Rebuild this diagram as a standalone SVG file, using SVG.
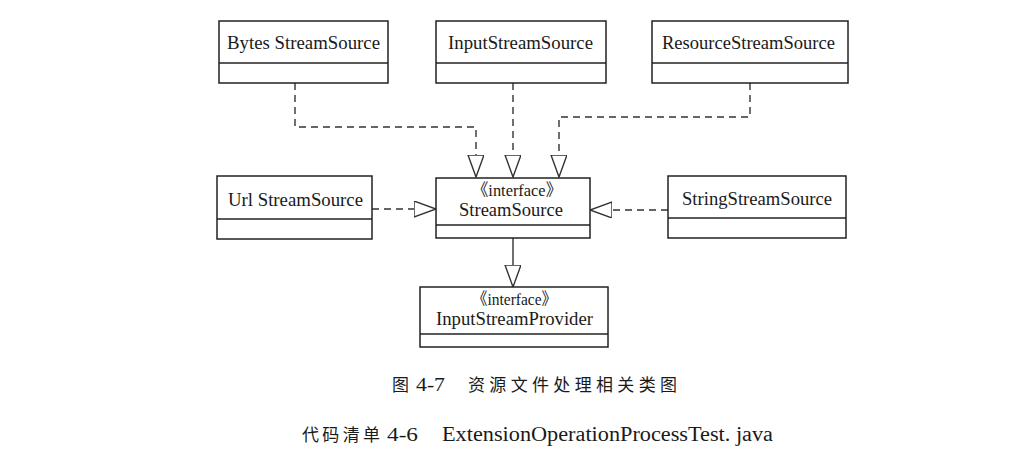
<svg xmlns="http://www.w3.org/2000/svg" width="1025" height="457" viewBox="0 0 1025 457">
<style>
  .box { fill: #fff; stroke: #222; stroke-width: 1.5; }
  .div { stroke: #222; stroke-width: 1.5; }
  .t { font-family: "Liberation Serif", "Noto Sans CJK SC", serif; font-size: 19px; fill: #1a1a1a; text-anchor: middle; }
  .s { font-family: "Liberation Serif", "Noto Sans CJK SC", serif; font-size: 17px; fill: #1a1a1a; text-anchor: middle; }
  .dash { fill: none; stroke: #333; stroke-width: 1.4; stroke-dasharray: 7 5; }
  .solid { fill: none; stroke: #333; stroke-width: 1.4; }
  .cap { font-family: "Liberation Serif", "Noto Sans CJK SC", serif; fill: #1a1a1a; }
</style>
<defs>
  <marker id="tri" markerUnits="userSpaceOnUse" markerWidth="24" markerHeight="18" refX="22" refY="8" orient="auto">
    <path d="M0,0 L22,8 L0,16 Z" fill="#fff" stroke="#333" stroke-width="1.4" stroke-dasharray="none"/>
  </marker>
</defs>
<rect width="1025" height="457" fill="#fff"/>

<g id="connectors">
  <path class="dash" d="M295,83 V127 H476 V177" marker-end="url(#tri)"/>
  <path class="dash" d="M513,83 V177" marker-end="url(#tri)"/>
  <path class="dash" d="M750,83 V117 H559 V177" marker-end="url(#tri)"/>
  <path class="dash" d="M372,209 H436" marker-end="url(#tri)"/>
  <path class="dash" d="M668,210 H590" marker-end="url(#tri)"/>
  <path class="solid" d="M513,238 V287" marker-end="url(#tri)"/>
</g>

<g id="node-bytes">
  <rect class="box" x="219" y="21" width="169" height="62"/>
  <line class="div" x1="219" y1="63" x2="388" y2="63"/>
  <text class="t" x="303.5" y="49" textLength="153" lengthAdjust="spacingAndGlyphs">Bytes StreamSource</text>
</g>
<g id="node-input">
  <rect class="box" x="436" y="21" width="170" height="62"/>
  <line class="div" x1="436" y1="63" x2="606" y2="63"/>
  <text class="t" x="520.5" y="49" textLength="145" lengthAdjust="spacingAndGlyphs">InputStreamSource</text>
</g>
<g id="node-resource">
  <rect class="box" x="652" y="21" width="196" height="62"/>
  <line class="div" x1="652" y1="63" x2="848" y2="63"/>
  <text class="t" x="748.5" y="49" textLength="173" lengthAdjust="spacingAndGlyphs">ResourceStreamSource</text>
</g>
<g id="node-url">
  <rect class="box" x="217" y="176" width="155" height="63"/>
  <line class="div" x1="217" y1="219" x2="372" y2="219"/>
  <text class="t" x="295.5" y="206" textLength="135" lengthAdjust="spacingAndGlyphs">Url StreamSource</text>
</g>
<g id="node-streamsource">
  <rect class="box" x="436" y="178" width="154" height="60"/>
  <line class="div" x1="436" y1="225" x2="590" y2="225"/>
  <text class="s" x="517" y="196" font-size="16" textLength="90" lengthAdjust="spacingAndGlyphs">《interface》</text>
  <text class="t" x="511" y="216" textLength="104" lengthAdjust="spacingAndGlyphs">StreamSource</text>
</g>
<g id="node-string">
  <rect class="box" x="668" y="176" width="178" height="62"/>
  <line class="div" x1="668" y1="218" x2="846" y2="218"/>
  <text class="t" x="757" y="205" textLength="150" lengthAdjust="spacingAndGlyphs">StringStreamSource</text>
</g>
<g id="node-provider">
  <rect class="box" x="420" y="287" width="188" height="60"/>
  <line class="div" x1="420" y1="334" x2="608" y2="334"/>
  <text class="s" x="514.5" y="305" font-size="16" textLength="85" lengthAdjust="spacingAndGlyphs">《interface》</text>
  <text class="t" x="514.5" y="325" textLength="157" lengthAdjust="spacingAndGlyphs">InputStreamProvider</text>
</g>

<g id="captions">
  <text class="cap" x="392" y="391" font-size="17">图</text>
  <text class="cap" x="416" y="391" font-size="18" textLength="29" lengthAdjust="spacingAndGlyphs">4-7</text>
  <text class="cap" x="468" y="391" font-size="17" textLength="209">资源文件处理相关类图</text>
  <text class="cap" x="302" y="441" font-size="17" textLength="78">代码清单</text>
  <text class="cap" x="387" y="441" font-size="19" textLength="31" lengthAdjust="spacingAndGlyphs">4-6</text>
  <text class="cap" x="442" y="441" font-size="20" textLength="331" lengthAdjust="spacingAndGlyphs">ExtensionOperationProcessTest. java</text>
</g>
</svg>
